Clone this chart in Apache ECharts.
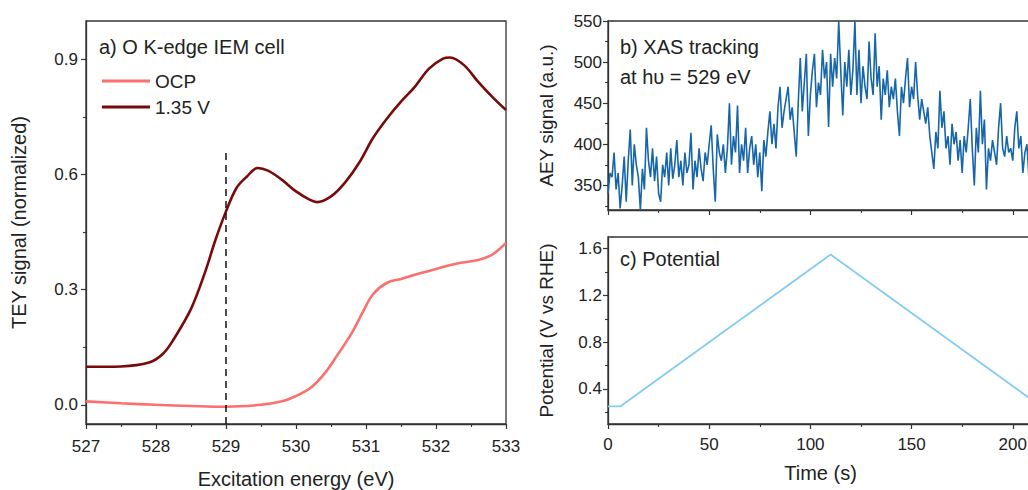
<!DOCTYPE html>
<html>
<head>
<meta charset="utf-8">
<script src="https://cdn.jsdelivr.net/npm/echarts@6/dist/echarts.min.js"></script>
<style>
  html, body { margin: 0; padding: 0; background: #fff; }
  #chart { width: 1028px; height: 490px; }
</style>
</head>
<body>
<div id="chart"></div>
<script>
// a) O K-edge spectra
var energy135 = [527, 527.5, 527.9, 528.1, 528.25, 528.5, 528.7, 528.85, 529, 529.15, 529.3, 529.45, 529.6, 529.8, 530, 530.2, 530.3, 530.5, 530.7, 530.9, 531.1, 531.3, 531.5, 531.7, 531.9, 532.1, 532.2, 532.4, 532.6, 532.8, 533];
var tey135 = [0.099, 0.10, 0.11, 0.133, 0.17, 0.25, 0.345, 0.43, 0.504, 0.565, 0.595, 0.617, 0.61, 0.586, 0.556, 0.534, 0.528, 0.543, 0.579, 0.63, 0.695, 0.746, 0.79, 0.829, 0.876, 0.902, 0.905, 0.885, 0.842, 0.803, 0.768];
var energyOcp = [527, 527.5, 528, 528.5, 529, 529.5, 529.8, 530, 530.2, 530.4, 530.6, 530.8, 530.95, 531.1, 531.3, 531.5, 531.8, 532, 532.3, 532.6, 532.8, 533];
var teyOcp = [0.009, 0.004, 0.0, -0.003, -0.005, 0.0, 0.009, 0.023, 0.043, 0.08, 0.132, 0.188, 0.24, 0.288, 0.318, 0.328, 0.344, 0.354, 0.368, 0.377, 0.391, 0.422];
var markEnergy = 529;
var markTop = 0.66;

// b) AEY tracking at 529 eV, one sample per second
var dt = 1;
var aey = [
  340, 365, 360, 390, 345, 365, 322, 350, 385, 330, 380,
  418, 350, 400, 375, 360, 320, 370, 345, 420, 380,
  360, 395, 355, 385, 340, 330, 375, 360, 390, 350,
  395, 358, 375, 405, 360, 380, 350, 390, 365, 375,
  414, 345, 380, 360, 395, 370, 355, 390, 375, 400,
  423, 370, 330, 412, 390, 380, 400, 365, 395, 450,
  375, 410, 390, 447, 365, 400, 380, 420, 365, 395,
  410, 375, 400, 360, 390, 343, 405, 385, 415, 440,
  400, 425, 395, 445, 470, 420, 440, 455, 470, 430,
  445, 415, 385, 450, 505, 440, 475, 510, 410, 460,
  490, 510, 445, 475, 460, 515, 480, 500, 421, 510,
  470, 505, 480, 550, 490, 435, 500, 470, 515, 460,
  490, 550, 460, 515, 450, 495, 470, 455, 525, 480,
  460, 535, 470, 495, 430, 480, 460, 490, 445, 470,
  455, 480, 440, 410, 470, 450, 480, 505, 445, 470,
  455, 500, 460, 430, 455, 440, 425, 445, 410, 390,
  370, 415, 395, 465, 420, 440, 395, 410, 375, 425,
  400, 415, 380, 405, 365, 410, 390, 420, 455, 395,
  350, 420, 390, 465, 400, 430, 345, 395, 380, 405,
  390, 375, 420, 450, 395, 385, 410, 390, 395, 380,
  420, 440, 395, 410, 365, 390, 400, 360
];

// c) potential sweep
var potTime = [0, 6, 110, 210];
var potVolt = [0.25, 0.25, 1.55, 0.3];

// tick labels
var teyTicks = [0, 0.3, 0.6, 0.9];
var teyMinor = [0.15, 0.45, 0.75];
var aeyTicks = [350, 400, 450, 500, 550];
var aeyMinor = [325, 375, 425, 475, 525];
var potTicks = [0.4, 0.8, 1.2, 1.6];
var potMinor = [0.2, 0.6, 1.0, 1.4];
var timeTicks = [0, 50, 100, 150, 200];
var timeMinor = [25, 75, 125, 175];

function zip(xs, ys) { return xs.map(function(x, i) { return [x, ys[i]]; }); }

var font = "'Liberation Sans', Arial, sans-serif";
var ink = '#222';
var frame = '#333';

function mainAxis(o) {
  return Object.assign({
    type: 'value',
    axisLine: { show: true, onZero: false, lineStyle: { color: frame, width: 1.3 } },
    axisTick: { show: true, inside: false, length: 5, lineStyle: { color: frame, width: 1.2 } },
    axisLabel: { color: ink, fontSize: 17, fontFamily: font },
    splitLine: { show: false },
    nameLocation: 'middle',
    nameTextStyle: { color: ink, fontSize: 20, fontFamily: font }
  }, o);
}
function minorAxis(o, vals) {
  return Object.assign({
    type: 'value',
    axisLine: { show: false },
    axisTick: { show: true, length: 3, customValues: vals, lineStyle: { color: frame, width: 1.1 } },
    axisLabel: { show: false },
    splitLine: { show: false }
  }, o);
}

var chart = echarts.init(document.getElementById('chart'), null, { renderer: 'svg' });
chart.setOption({
  animation: false,
  textStyle: { fontFamily: font },
  title: [
    { text: 'a) O K-edge IEM cell', left: 94, top: 32, textStyle: { color: ink, fontSize: 20, fontWeight: 'normal', fontFamily: font } },
    { text: 'b) XAS tracking\nat h\u03c5 = 529 eV', left: 615, top: 27, textStyle: { color: ink, fontSize: 20, fontWeight: 'normal', fontFamily: font, lineHeight: 30 } },
    { text: 'c) Potential', left: 615, top: 244, textStyle: { color: ink, fontSize: 20, fontWeight: 'normal', fontFamily: font } }
  ],
  legend: {
    data: ['OCP', '1.35 V'],
    orient: 'vertical',
    left: 97,
    top: 66,
    icon: 'rect',
    itemWidth: 48,
    itemHeight: 3,
    itemGap: 6,
    textStyle: { color: ink, fontSize: 19, fontFamily: font, lineHeight: 20 }
  },
  grid: [
    { left: 86, top: 21, right: 522, bottom: 66, show: true, borderColor: frame, borderWidth: 1.3, outerBoundsMode: 'none' },
    { left: 608, top: 21, right: -5, bottom: 280, show: true, borderColor: frame, borderWidth: 1.3, outerBoundsMode: 'none' },
    { left: 608, top: 237, right: -5, bottom: 66, show: true, borderColor: frame, borderWidth: 1.3, outerBoundsMode: 'none' }
  ],
  xAxis: [
    mainAxis({ gridIndex: 0, min: 527, max: 533, interval: 1, name: 'Excitation energy (eV)', nameGap: 45,
      minorTick: { show: true, splitNumber: 2, length: 3, lineStyle: { color: frame, width: 1.1 } },
      axisLabel: { color: ink, fontSize: 17, fontFamily: font, margin: 14 } }),
    mainAxis({ gridIndex: 1, min: 0, max: 210,
      axisTick: { show: true, length: 5, customValues: timeTicks, lineStyle: { color: frame, width: 1.2 } },
      axisLabel: { show: false } }),
    minorAxis({ gridIndex: 1, min: 0, max: 210, position: 'bottom' }, timeMinor),
    mainAxis({ gridIndex: 2, min: 0, max: 210, name: 'Time (s)', nameGap: 39,
      axisTick: { show: true, length: 5, customValues: timeTicks, lineStyle: { color: frame, width: 1.2 } },
      axisLabel: { color: ink, fontSize: 17, fontFamily: font, margin: 12, customValues: timeTicks } }),
    minorAxis({ gridIndex: 2, min: 0, max: 210, position: 'bottom' }, timeMinor)
  ],
  yAxis: [
    mainAxis({ gridIndex: 0, min: -0.05, max: 1.0, name: 'TEY signal (normalized)', nameGap: 57,
      axisTick: { show: true, length: 5, customValues: teyTicks, lineStyle: { color: frame, width: 1.2 } },
      axisLabel: { color: ink, fontSize: 17, fontFamily: font, margin: 8, customValues: teyTicks,
        formatter: function(v) { return v.toFixed(1); } } }),
    minorAxis({ gridIndex: 0, min: -0.05, max: 1.0, position: 'left' }, teyMinor),
    mainAxis({ gridIndex: 1, min: 320, max: 550, name: 'AEY signal (a.u.)', nameGap: 52,
      axisTick: { show: true, length: 5, customValues: aeyTicks, lineStyle: { color: frame, width: 1.2 } },
      axisLabel: { color: ink, fontSize: 17, fontFamily: font, margin: 6, customValues: aeyTicks },
      nameTextStyle: { color: ink, fontSize: 19, fontFamily: font } }),
    minorAxis({ gridIndex: 1, min: 320, max: 550, position: 'left' }, aeyMinor),
    mainAxis({ gridIndex: 2, min: 0.1, max: 1.7, name: 'Potential (V vs RHE)', nameGap: 52,
      axisTick: { show: true, length: 5, customValues: potTicks, lineStyle: { color: frame, width: 1.2 } },
      axisLabel: { color: ink, fontSize: 17, fontFamily: font, margin: 6, customValues: potTicks,
        formatter: function(v) { return v.toFixed(1); } },
      nameTextStyle: { color: ink, fontSize: 19, fontFamily: font } }),
    minorAxis({ gridIndex: 2, min: 0.1, max: 1.7, position: 'left' }, potMinor)
  ],
  series: [
    {
      name: 'OCP', type: 'line', xAxisIndex: 0, yAxisIndex: 0,
      data: zip(energyOcp, teyOcp), showSymbol: false, symbol: 'none', smooth: 0.35,
      lineStyle: { color: '#fb6f6f', width: 2.6 }, itemStyle: { color: '#fb6f6f' }
    },
    {
      name: '1.35 V', type: 'line', xAxisIndex: 0, yAxisIndex: 0,
      data: zip(energy135, tey135), showSymbol: false, symbol: 'none', smooth: 0.35,
      lineStyle: { color: '#7a0a0a', width: 2.6 }, itemStyle: { color: '#7a0a0a' },
      markLine: {
        silent: true, symbol: 'none', label: { show: false },
        lineStyle: { color: '#111', type: [7, 5], width: 1.5 },
        data: [[{ coord: [markEnergy, -0.05] }, { coord: [markEnergy, markTop] }]]
      }
    },
    {
      name: 'AEY', type: 'line', xAxisIndex: 1, yAxisIndex: 2,
      data: aey.map(function(v, i) { return [i * dt, v]; }), showSymbol: false, symbol: 'none',
      clip: true, lineStyle: { color: '#1766a9', width: 1.6 }
    },
    {
      name: 'Potential', type: 'line', xAxisIndex: 3, yAxisIndex: 4,
      data: zip(potTime, potVolt), showSymbol: false, symbol: 'none',
      lineStyle: { color: '#82ccf3', width: 1.8 }
    }
  ]
});
</script>
</body>
</html>
